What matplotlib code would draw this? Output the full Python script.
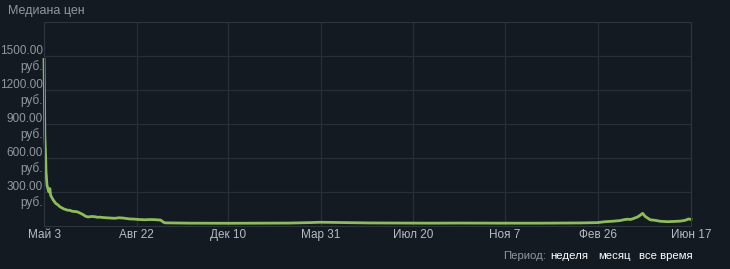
import matplotlib
matplotlib.use('Agg')

import numpy as np
import pandas as pd
import matplotlib.pyplot as plt

# days since start date, median price (руб.)
START = "2022-05-03"
days = [0, 0.6, 1, 2, 2.4, 3.6, 5, 6, 7, 8, 11, 14, 17, 19, 22, 24, 28, 31,
        34, 37, 40, 43, 47, 50, 53, 57, 61, 64, 67, 72, 76, 80, 85, 90, 95,
        99, 103, 108, 112, 121, 127, 133, 140, 143, 145, 175, 223, 259, 295,
        319, 331, 343, 361, 391, 427, 463, 499, 547, 595, 643, 664, 673, 682,
        691, 696, 700, 704, 707, 712, 715, 718, 721, 725, 727, 733, 739, 748,
        755, 763, 769, 773, 776]
prices = [1470, 1100, 800, 600, 480, 360, 320, 300, 330, 270, 230, 200, 185,
          170, 158, 150, 140, 138, 130, 128, 125, 115, 100, 85, 80, 84, 82,
          77, 78, 74, 72, 70, 68, 73, 70, 66, 62, 61, 58, 55, 57, 56, 52, 35,
          28, 25, 24, 25, 26, 30, 33, 32, 30, 27, 26, 25, 26, 25, 25, 27, 30,
          38, 42, 48, 56, 60, 58, 66, 80, 95, 112, 85, 65, 55, 50, 42, 38, 40,
          43, 50, 62, 58]

tick_dates = ["2022-05-03", "2022-08-22", "2022-12-10", "2023-03-31",
              "2023-07-20", "2023-11-07", "2024-02-26", "2024-06-17"]
tick_labels = ["Май 3", "Авг 22", "Дек 10", "Мар 31", "Июл 20", "Ноя 7",
               "Фев 26", "Июн 17"]
y_ticks = [300, 600, 900, 1200, 1500]

BG = "#131a22"
GRID = "#253039"
TXT = "#8f98a0"

plt.rcParams['font.family'] = ['Liberation Sans', 'DejaVu Sans']

dates = pd.Timestamp(START) + pd.to_timedelta(days, unit="D")

fig = plt.figure(figsize=(7.3, 2.69), dpi=100, facecolor=BG)
ax = fig.add_axes([44 / 730, 1 - 226 / 269, 647 / 730, 204 / 269])
ax.set_facecolor(BG)

ax.plot(dates, prices, color="#8fbc5a", linewidth=2, clip_on=False)

ax.set_ylim(0, 1800)
ax.set_xlim(pd.Timestamp(tick_dates[0]), pd.Timestamp(tick_dates[-1]))
ax.set_yticks(y_ticks)
ax.set_yticklabels([f"{v:.2f}\nруб." for v in y_ticks], ha="right",
                   linespacing=1.3)
ax.set_xticks(pd.to_datetime(tick_dates))
ax.set_xticklabels(tick_labels)
ax.tick_params(axis="both", length=0, colors=TXT, labelsize=8.5)
ax.tick_params(axis="y", pad=1)
ax.tick_params(axis="x", pad=2, labelcolor="#b6bcc2")
ax.grid(True, color=GRID, linewidth=0.9)
for s in ax.spines.values():
    s.set_color("#2c3641")

fig.text(8 / 730, 1 - 11 / 269, "Медиана цен", color=TXT, fontsize=9, va="center")
fig.text(503 / 730, 1 - 256 / 269, "Период:", color=TXT, fontsize=8.2, va="center")
for label, x in [("неделя", 550), ("месяц", 598), ("все время", 639)]:
    fig.text(x / 730, 1 - 256 / 269, label, color="white", fontsize=8.2, va="center")

fig.savefig("out.png", dpi=100, facecolor=BG)
